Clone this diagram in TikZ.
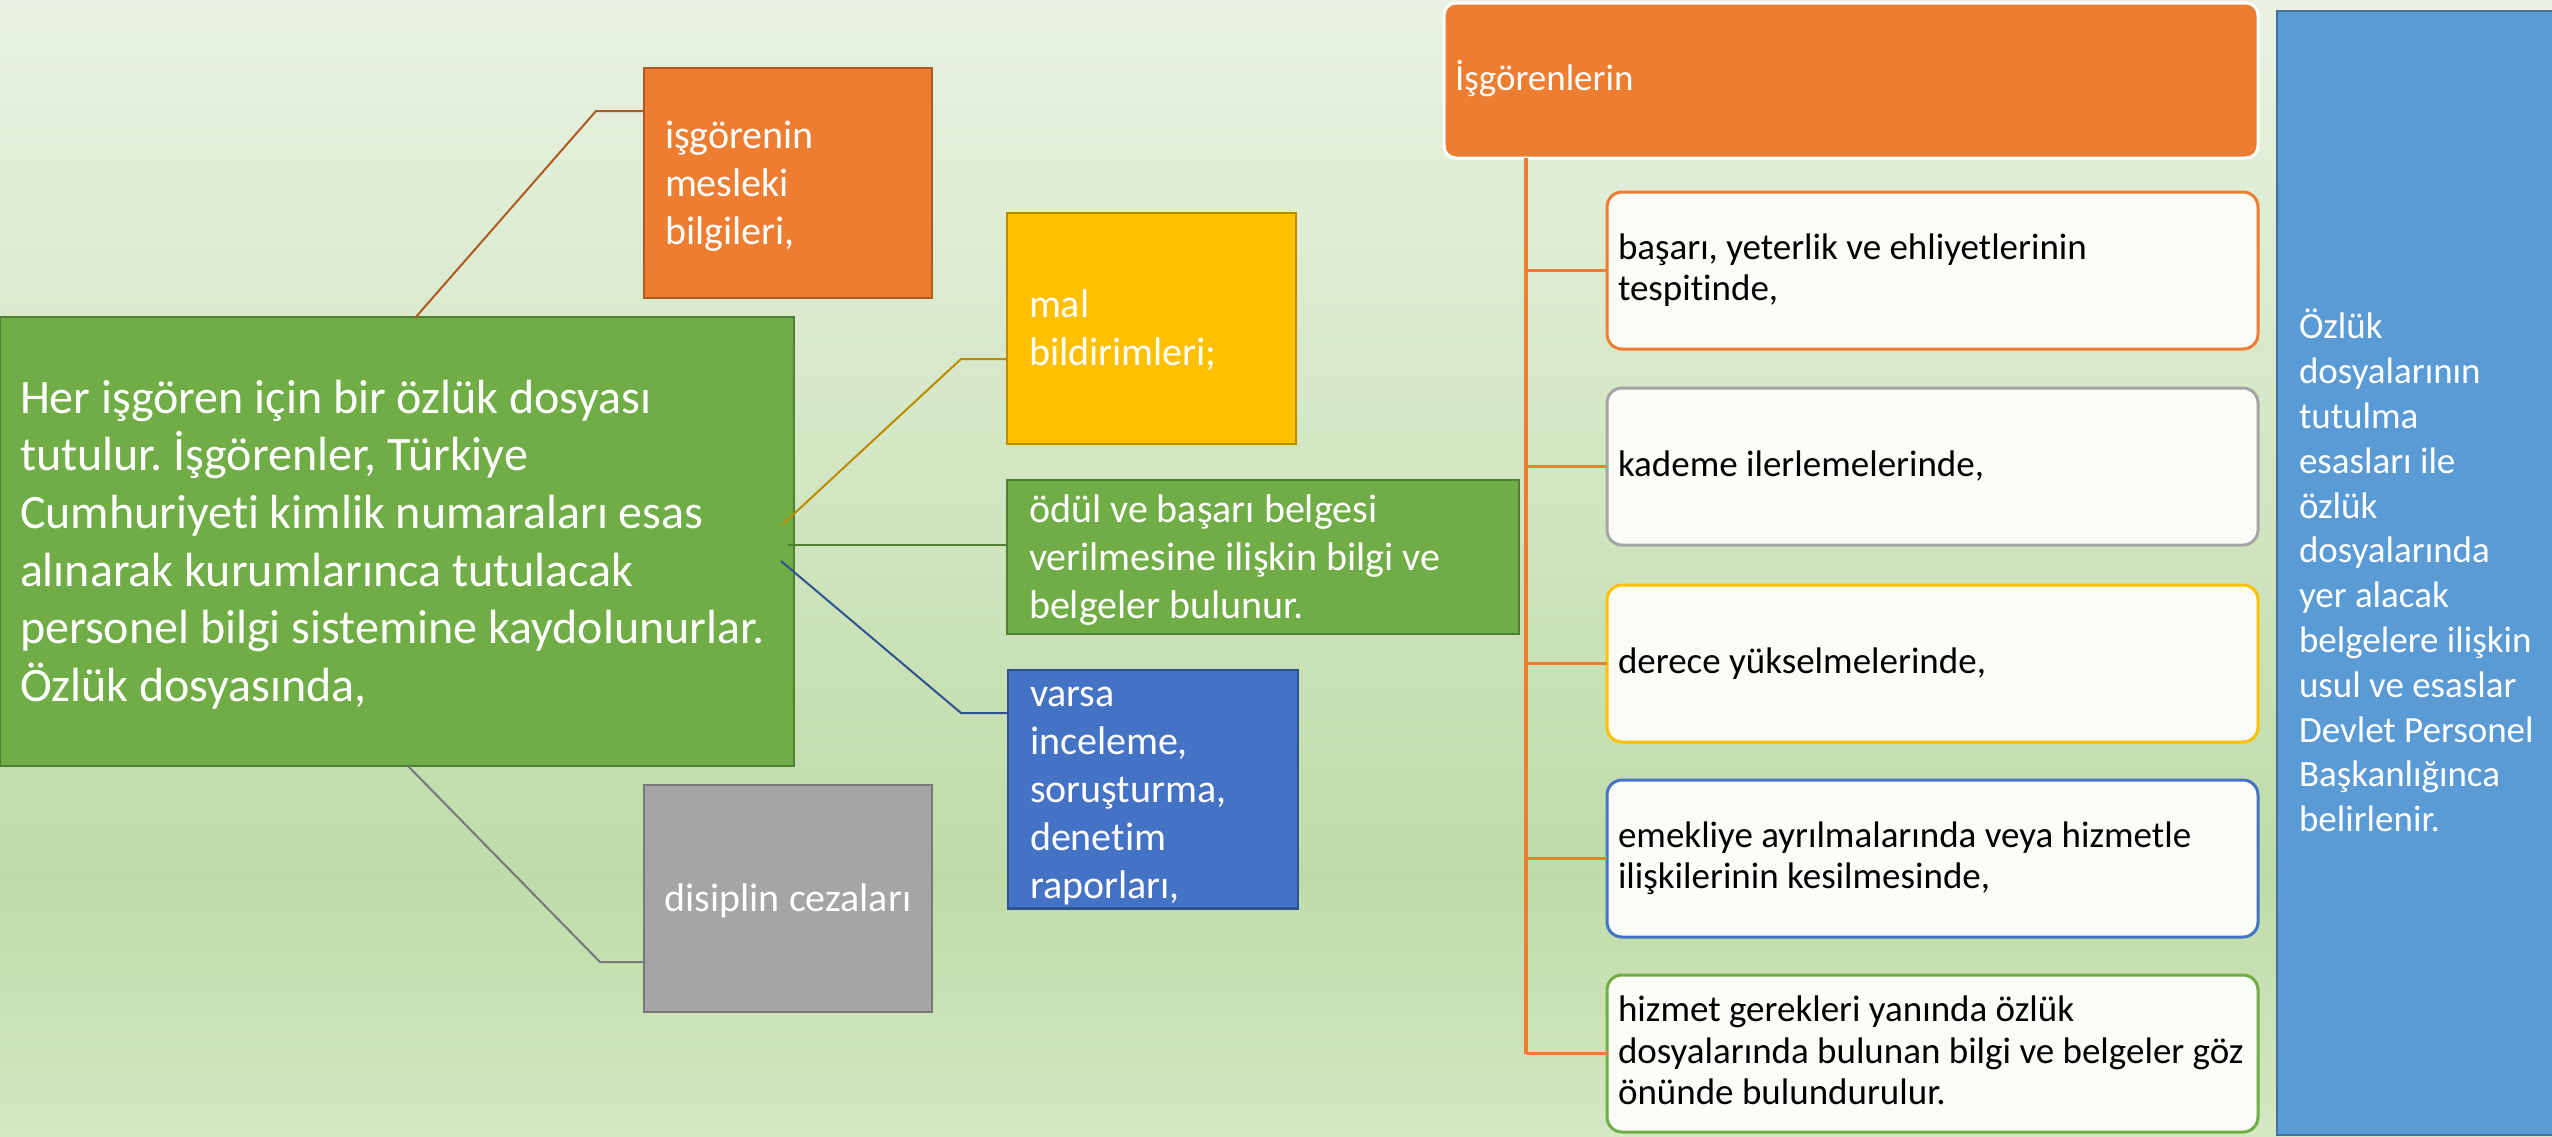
\documentclass[tikz,border=0pt]{standalone}
\usepackage{fontspec}
\setmainfont{Carlito}[Ligatures={NoCommon}]
\usetikzlibrary{calc}
\definecolor{oFill}{HTML}{ED7D31}
\definecolor{oLine}{HTML}{AE5A21}
\definecolor{yFill}{HTML}{FFC000}
\definecolor{yLine}{HTML}{BC8C00}
\definecolor{gFill}{HTML}{70AD47}
\definecolor{gLine}{HTML}{507E32}
\definecolor{bFill}{HTML}{4472C4}
\definecolor{bLine}{HTML}{2F528F}
\definecolor{sFill}{HTML}{A5A5A5}
\definecolor{sLine}{HTML}{787878}
\definecolor{rFill}{HTML}{5B9BD5}
\definecolor{rLine}{HTML}{41719C}
\definecolor{cFill}{HTML}{FAFCF8}
\definecolor{bgTop}{RGB}{233,242,226}
\definecolor{bgMid}{RGB}{190,220,168}
\definecolor{bgBot}{RGB}{212,232,196}
\newcommand\sa{\rule[-0.25em]{0pt}{1.16em}}
\newcommand\sbb{\rule[-0.25em]{0pt}{1.02em}}
\frenchspacing
\begin{document}
\begin{tikzpicture}[x=1pt,y=-1pt,
  lbox/.style={anchor=north west, inner ysep=0pt, outer sep=0pt, align=flush left,
    text=white, line width=2.5pt},
  small/.style={lbox, minimum height=#1, font=\fontsize{40}{48}\selectfont},
  conn/.style={line width=2pt},
  cbox/.style={anchor=north west, rounded corners=15pt, fill=cFill, line width=3pt,
    minimum width=651pt, minimum height=157pt, text width=629pt, inner xsep=11pt,
    inner ysep=0pt, outer sep=0pt, align=flush left, text=black,
    font=\fontsize{37}{41.5}\selectfont},
  tree/.style={draw=oFill, line width=3.5pt}]
\useasboundingbox (0,0) rectangle (2552,1136);
\shade[top color=bgTop, bottom color=bgMid] (0,0) rectangle (2552,880);
\shade[top color=bgMid, bottom color=bgBot] (0,879.5) rectangle (2552,1136);

% left cluster
\node[lbox, fill=gFill, draw=gLine, text width=754pt, inner xsep=20pt,
  minimum height=449pt, font=\fontsize{48}{57.6}\selectfont] (main) at (0,317)
  {\sa Her işgören için bir özlük dosyası\\ tutulur. İşgörenler, Türkiye\\
   Cumhuriyeti kimlik numaraları esas\\ alınarak kurumlarınca tutulacak\\
   \mbox{personel bilgi sistemine kaydolunurlar.}\\ Özlük dosyasında,\sa};

\node[small=230pt, fill=oFill, draw=oLine, text width=246pt, inner xsep=21pt] (k1) at (644,68)
  {\sa işgörenin\\ mesleki\\ bilgileri,\sa};
\node[small=231pt, fill=yFill, draw=yLine, text width=245pt, inner xsep=22pt] (k2) at (1007,213)
  {\sa mal\\ bildirimleri;\sa};
\node[small=154pt, fill=gFill, draw=gLine, text width=468pt, inner xsep=22pt] (k3) at (1007,480)
  {\sa ödül ve başarı belgesi\\ verilmesine ilişkin bilgi ve\\ belgeler bulunur.\sa};
\node[small=230pt, fill=bFill, draw=bLine, text width=246pt, inner xsep=22pt] (k4) at (1008,670)
  {\sa varsa\\ inceleme,\\ soruşturma,\\ denetim\\ raporları,\sa};
\node[small=227pt, fill=sFill, draw=sLine, minimum width=288pt, inner xsep=0pt, align=center] (k5) at (644,785)
  {\sa disiplin cezaları\sa};

\coordinate (m1) at (415,318);  \coordinate (e1) at (596,111);
\coordinate (m2) at (783,524);  \coordinate (e2) at (961,359);
\coordinate (m3) at (788,545);
\coordinate (m4) at (781,561);  \coordinate (e4) at (961,713);
\coordinate (m5) at (408,766);  \coordinate (e5) at (600,962);
\draw[conn, oLine] (m1) -- (e1) -- (e1 -| k1.west);
\draw[conn, yLine] (m2) -- (e2) -- (e2 -| k2.west);
\draw[conn, gLine] (m3) -- (m3 -| k3.west);
\draw[conn, bLine] (m4) -- (e4) -- (e4 -| k4.west);
\draw[conn, sLine] (m5) -- (e5) -- (e5 -| k5.west);

% right hierarchy
\node[anchor=north west, rounded corners=12pt, fill=oFill, draw=white, line width=3pt,
  minimum width=814pt, minimum height=155pt, text width=792pt, inner xsep=11pt,
  inner ysep=0pt, outer sep=0pt, align=flush left, text=white,
  font=\fontsize{37}{44}\selectfont] (h) at (1444,3) {\sbb İşgörenlerin\sbb};

\coordinate (t0) at (1526,0);
\node[cbox, draw=oFill] (c1) at (1607,192) {\sbb başarı, yeterlik ve ehliyetlerinin\\ tespitinde,\sbb};
\node[cbox, draw=sFill] (c2) at (1607,388) {\sbb kademe ilerlemelerinde,\sbb};
\node[cbox, draw=yFill] (c3) at (1607,585) {\sbb derece yükselmelerinde,\sbb};
\node[cbox, draw=bFill] (c4) at (1607,780) {\sbb\mbox{emekliye ayrılmalarında veya hizmetle}\\ ilişkilerinin kesilmesinde,\sbb};
\node[cbox, draw=gFill] (c5) at (1607,975) {\sbb hizmet gerekleri yanında özlük\\ \mbox{dosyalarında bulunan bilgi ve belgeler göz}\\ önünde bulundurulur.\sbb};

\draw[tree] (h.south -| t0) -- (t0 |- c5.west);
\foreach \c in {c1,c2,c3,c4,c5} \draw[tree] (t0 |- \c.west) -- (\c.west);

\node[anchor=north west, fill=rFill, draw=rLine, line width=2.5pt,
  minimum width=294pt, minimum height=1124pt, text width=250pt, inner xsep=22pt,
  inner ysep=0pt, outer sep=0pt, align=flush left, text=white,
  font=\fontsize{37}{44.8}\selectfont] (r) at (2277,11)
  {\sa Özlük\\ dosyalarının\\ tutulma\\ esasları ile\\ özlük\\ dosyalarında\\ yer alacak\\
   \mbox{belgelere ilişkin}\\ usul ve esaslar\\ \mbox{Devlet Personel}\\ Başkanlığınca\\ belirlenir.\sa};
\end{tikzpicture}
\end{document}
